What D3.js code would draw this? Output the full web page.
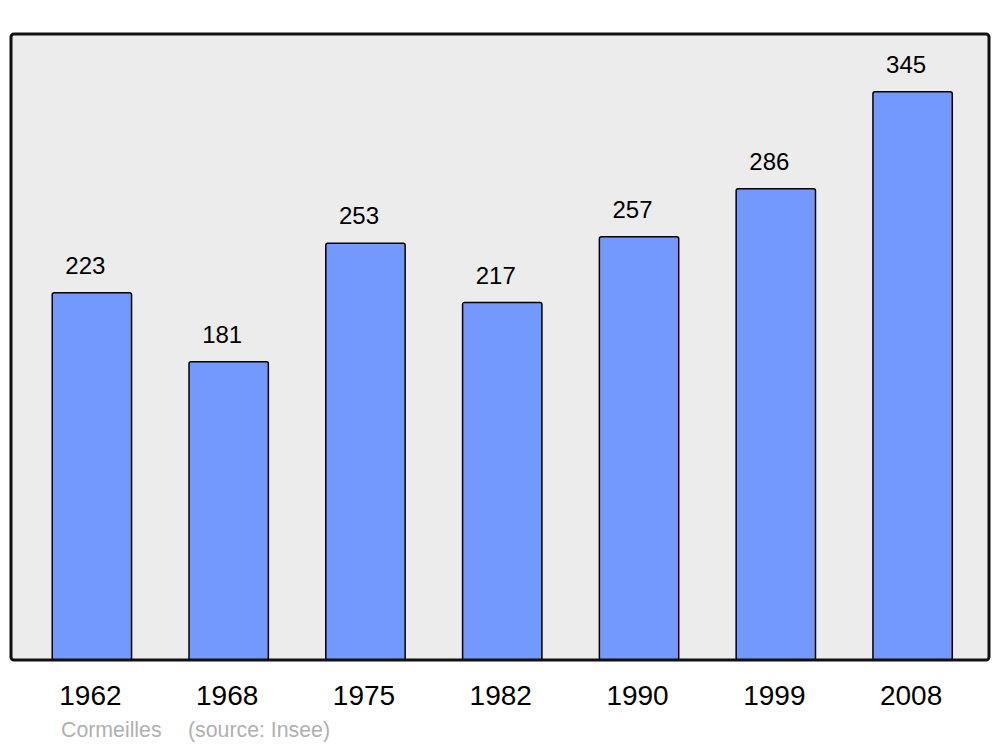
<!DOCTYPE html>
<html>
<head>
<meta charset="utf-8">
<script src="https://cdn.jsdelivr.net/npm/d3@7"></script>
<style>
  html, body { margin: 0; padding: 0; background: #ffffff; }
  svg { display: block; font-family: "Liberation Sans", Arial, sans-serif; }
</style>
</head>
<body>
<svg id="chart" width="1000" height="747"></svg>
<script>
const years = ["1962", "1968", "1975", "1982", "1990", "1999", "2008"];
const population = [223, 181, 253, 217, 257, 286, 345];
const commune = "Cormeilles";
const source = "(source: Insee)";

const svg = d3.select("#chart");
const frame = { left: 11, top: 34, right: 989, bottom: 660 };

const x = d3.scaleBand()
  .domain(years)
  .range([23.5, 981])
  .paddingInner(0.42)
  .paddingOuter(0.21);

const y = d3.scaleLinear()
  .domain([0, 380])
  .range([frame.bottom, frame.top]);

svg.append("rect")
  .attr("x", frame.left).attr("y", frame.top)
  .attr("width", frame.right - frame.left)
  .attr("height", frame.bottom - frame.top)
  .attr("rx", 3).attr("ry", 3)
  .attr("fill", "#ececec");

const data = years.map((yr, i) => ({ year: yr, value: population[i] }));

svg.append("g").selectAll("rect")
  .data(data)
  .join("rect")
  .attr("x", d => x(d.year))
  .attr("y", d => y(d.value))
  .attr("width", x.bandwidth())
  .attr("height", d => y(0) - y(d.value))
  .attr("rx", 2).attr("ry", 2)
  .attr("fill", "#7399ff")
  .attr("stroke", "#000")
  .attr("stroke-width", 1.5);

svg.append("g").selectAll("text")
  .data(data)
  .join("text")
  .attr("x", d => x(d.year) + x.bandwidth() / 2 - 6.5)
  .attr("y", d => y(d.value) - 19)
  .attr("text-anchor", "middle")
  .attr("font-size", 24)
  .attr("fill", "#000")
  .text(d => d.value);

// frame outline on top
svg.append("rect")
  .attr("x", frame.left).attr("y", frame.top)
  .attr("width", frame.right - frame.left)
  .attr("height", frame.bottom - frame.top)
  .attr("rx", 3).attr("ry", 3)
  .attr("fill", "none")
  .attr("stroke", "#111")
  .attr("stroke-width", 3);

const xAxis = d3.axisBottom(x).tickSize(0).tickPadding(0);
const ax = svg.append("g")
  .attr("transform", `translate(0, ${frame.bottom})`)
  .call(xAxis);
ax.select(".domain").remove();
ax.selectAll("text")
  .attr("x", -1.5)
  .attr("y", 45)
  .attr("dy", 0)
  .attr("font-size", 28)
  .attr("font-family", "\"Liberation Sans\", Arial, sans-serif")
  .attr("fill", "#000");

svg.append("text")
  .attr("x", 61).attr("y", 737)
  .attr("font-size", 21.3)
  .attr("fill", "#b0b0b0")
  .text(commune);
svg.append("text")
  .attr("x", 188).attr("y", 737)
  .attr("font-size", 21.3)
  .attr("fill", "#b0b0b0")
  .text(source);
</script>
</body>
</html>
